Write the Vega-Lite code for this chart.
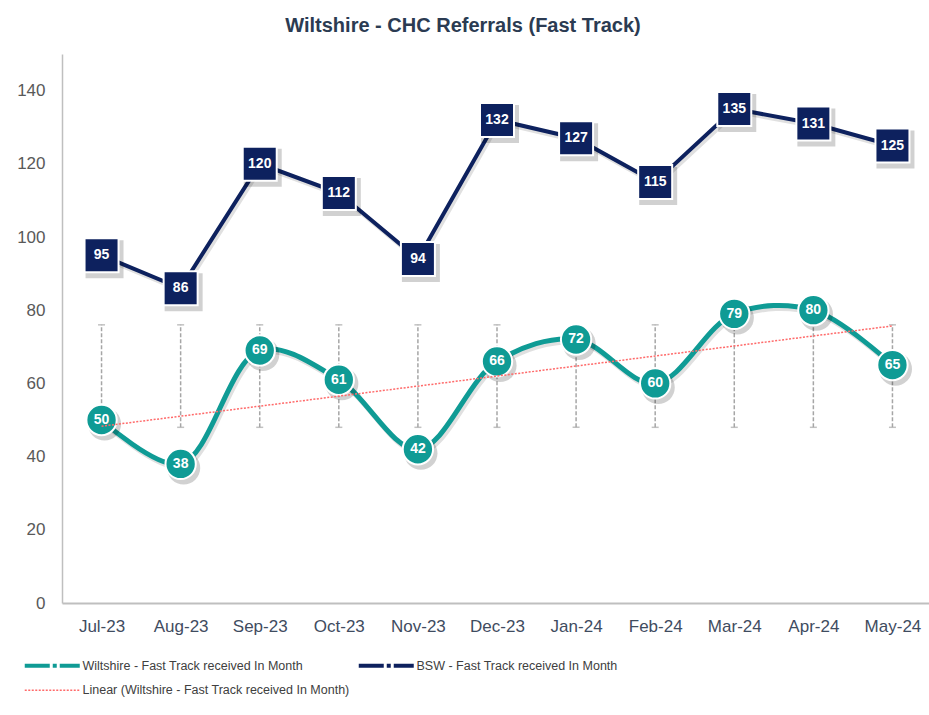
{
  "$schema": "https://vega.github.io/schema/vega-lite/v6.json",
  "width": 870,
  "height": 549,
  "autosize": {"type": "none"},
  "padding": {"left": 62, "top": 54, "right": 0, "bottom": 112},
  "background": "white",
  "config": {
    "view": {"stroke": null},
    "font": "Liberation Sans",
    "axisY": {"labelFontSize": 17, "labelColor": "#595959", "labelPadding": 17, "ticks": false, "domainColor": "#bfbfbf", "domainWidth": 1.5, "grid": false, "tickCount": 8, "labelFont": "Liberation Sans"},
    "axisX": {"labelFontSize": 17, "labelColor": "#3f4c5f", "labelPadding": 15, "ticks": false, "domainColor": "#bfbfbf", "domainWidth": 2, "grid": false, "labelAngle": 0, "labelFont": "Liberation Sans"}
  },
  "title": {"text": "Wiltshire - CHC Referrals (Fast Track)", "fontSize": 20, "font": "Liberation Sans", "fontWeight": "bold", "color": "#2b3b52", "anchor": "middle", "dx": -34, "offset": 18},
  "datasets": {
    "monthly": [
      {"month": "Jul-23", "wiltshire": 50, "bsw": 95, "errLow": 48, "errHigh": 76},
      {"month": "Aug-23", "wiltshire": 38, "bsw": 86, "errLow": 48, "errHigh": 76},
      {"month": "Sep-23", "wiltshire": 69, "bsw": 120, "errLow": 48, "errHigh": 76},
      {"month": "Oct-23", "wiltshire": 61, "bsw": 112, "errLow": 48, "errHigh": 76},
      {"month": "Nov-23", "wiltshire": 42, "bsw": 94, "errLow": 48, "errHigh": 76},
      {"month": "Dec-23", "wiltshire": 66, "bsw": 132, "errLow": 48, "errHigh": 76},
      {"month": "Jan-24", "wiltshire": 72, "bsw": 127, "errLow": 48, "errHigh": 76},
      {"month": "Feb-24", "wiltshire": 60, "bsw": 115, "errLow": 48, "errHigh": 76},
      {"month": "Mar-24", "wiltshire": 79, "bsw": 135, "errLow": 48, "errHigh": 76},
      {"month": "Apr-24", "wiltshire": 80, "bsw": 131, "errLow": 48, "errHigh": 76},
      {"month": "May-24", "wiltshire": 65, "bsw": 125, "errLow": 48, "errHigh": 76}
    ],
    "trend": [
      {"month": "Jul-23", "trend": 48.3},
      {"month": "May-24", "trend": 75.7}
    ]
  },
  "data": {"name": "monthly"},
  "encoding": {
    "x": {"field": "month", "type": "ordinal", "title": null,
      "scale": {"type": "point", "padding": 0.5, "domain": ["Jul-23","Aug-23","Sep-23","Oct-23","Nov-23","Dec-23","Jan-24","Feb-24","Mar-24","Apr-24","May-24"]}}
  },
  "layer": [
    {
      "mark": {"type": "rule", "color": "#a6a6a6", "strokeDash": [4, 2], "strokeWidth": 1.5},
      "encoding": {
        "y": {"field": "errLow", "type": "quantitative", "title": null, "scale": {"domain": [0, 150], "nice": false}},
        "y2": {"field": "errHigh"}
      }
    },
    {
      "mark": {"type": "tick", "color": "#a6a6a6", "size": 7, "thickness": 1.5},
      "encoding": {"y": {"field": "errHigh", "type": "quantitative", "title": null}}
    },
    {
      "mark": {"type": "tick", "color": "#a6a6a6", "size": 7, "thickness": 1.5},
      "encoding": {"y": {"field": "errLow", "type": "quantitative", "title": null}}
    },
    {
      "mark": {"type": "line", "interpolate": "catmull-rom", "strokeWidth": 5, "color": "#000000", "opacity": 0.12, "xOffset": 2, "yOffset": 3},
      "encoding": {"y": {"field": "wiltshire", "type": "quantitative", "title": null}}
    },
    {
      "mark": {"type": "line", "strokeWidth": 4, "color": "#000000", "opacity": 0.12, "xOffset": 2, "yOffset": 3},
      "encoding": {"y": {"field": "bsw", "type": "quantitative", "title": null}}
    },
    {
      "mark": {"type": "line", "interpolate": "catmull-rom", "strokeWidth": 5, "strokeCap": "round"},
      "encoding": {
        "y": {"field": "wiltshire", "type": "quantitative", "title": null},
        "color": {
          "datum": "Wiltshire - Fast Track received In Month",
          "scale": {
            "domain": ["Wiltshire - Fast Track received In Month", "BSW - Fast Track received In Month", "Linear (Wiltshire - Fast Track received In Month)"],
            "range": ["#0f9b95", "#0d215e", "#ff6a6a"]
          },
          "legend": {
            "title": null, "orient": "none", "legendX": -16, "legendY": 605,
            "direction": "horizontal", "columns": 2,
            "symbolType": "stroke", "symbolSize": 3025, "symbolStrokeWidth": 4,
            "labelFontSize": 12.5, "labelColor": "#404040", "labelFont": "Liberation Sans",
            "columnPadding": 0, "rowPadding": 10, "labelOffset": 24, "labelLimit": 400,
            "encode": {
              "symbols": {
                "update": {
                  "strokeDash": {"signal": "datum.label == 'Linear (Wiltshire - Fast Track received In Month)' ? [2, 1.5] : [25, 3, 4, 3, 40]"},
                  "strokeWidth": {"signal": "datum.label == 'Linear (Wiltshire - Fast Track received In Month)' ? 1.5 : 4"}
                }
              }
            }
          }
        }
      }
    },
    {
      "mark": {"type": "line", "strokeWidth": 4},
      "encoding": {
        "y": {"field": "bsw", "type": "quantitative", "title": null},
        "color": {"datum": "BSW - Fast Track received In Month"}
      }
    },
    {
      "mark": {"type": "point", "shape": "square", "filled": true, "fill": "#000000", "opacity": 0.18, "size": 1444, "xOffset": 3, "yOffset": 4},
      "encoding": {"y": {"field": "bsw", "type": "quantitative", "title": null}}
    },
    {
      "mark": {"type": "point", "shape": "circle", "filled": true, "fill": "#000000", "opacity": 0.18, "size": 1100, "xOffset": 3, "yOffset": 4},
      "encoding": {"y": {"field": "wiltshire", "type": "quantitative", "title": null}}
    },
    {
      "mark": {"type": "point", "shape": "square", "filled": true, "fill": "#0d215e", "stroke": "#ffffff", "strokeWidth": 2, "opacity": 1, "size": 1156},
      "encoding": {"y": {"field": "bsw", "type": "quantitative", "title": null}}
    },
    {
      "mark": {"type": "point", "shape": "circle", "filled": true, "fill": "#0f9b95", "stroke": "#ffffff", "strokeWidth": 2, "opacity": 1, "size": 920},
      "encoding": {"y": {"field": "wiltshire", "type": "quantitative", "title": null}}
    },
    {
      "data": {"name": "trend"},
      "mark": {"type": "line", "strokeDash": [2, 1.5], "strokeWidth": 1.5},
      "encoding": {
        "y": {"field": "trend", "type": "quantitative", "title": null},
        "color": {"datum": "Linear (Wiltshire - Fast Track received In Month)"}
      }
    },
    {
      "mark": {"type": "text", "color": "#ffffff", "fontSize": 14, "fontWeight": "bold", "font": "Liberation Sans", "baseline": "middle"},
      "encoding": {
        "y": {"field": "bsw", "type": "quantitative", "title": null},
        "text": {"field": "bsw", "type": "quantitative"}
      }
    },
    {
      "mark": {"type": "text", "color": "#ffffff", "fontSize": 14, "fontWeight": "bold", "font": "Liberation Sans", "baseline": "middle"},
      "encoding": {
        "y": {"field": "wiltshire", "type": "quantitative", "title": null},
        "text": {"field": "wiltshire", "type": "quantitative"}
      }
    }
  ]
}
